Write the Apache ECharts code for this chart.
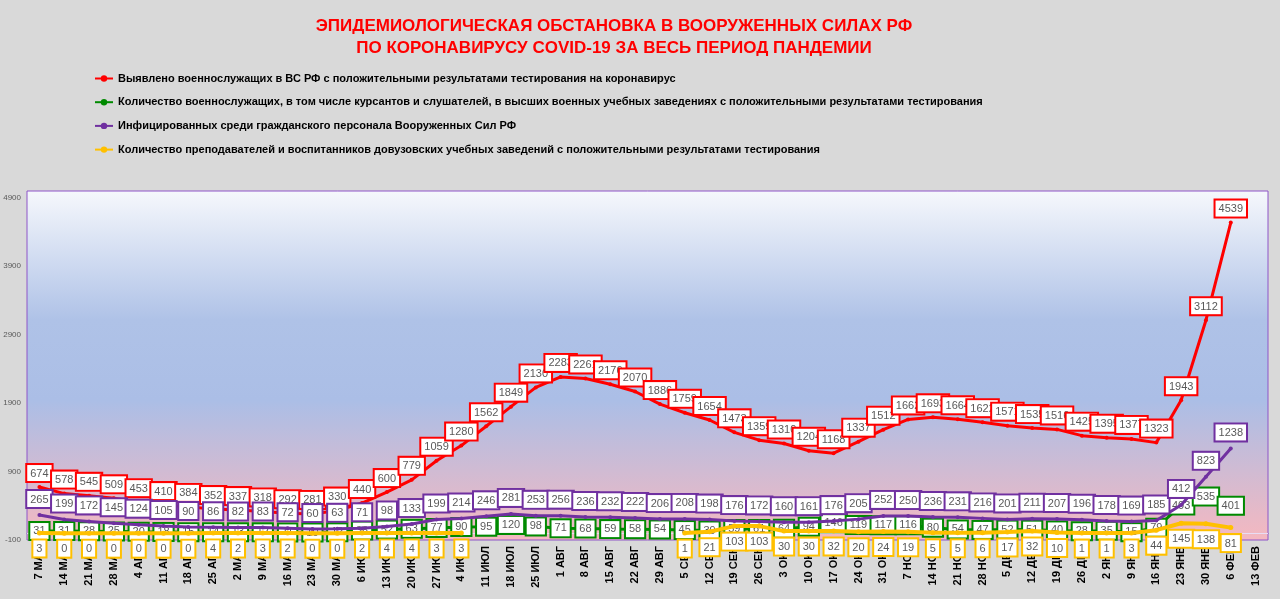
<!DOCTYPE html>
<html><head><meta charset="utf-8">
<script src="https://cdn.jsdelivr.net/npm/echarts@6/dist/echarts.min.js"></script>
<style>html,body{margin:0;padding:0;background:#D9D9D9;}#c{width:1280px;height:599px;}</style>
</head><body><div id="c"></div>
<script>
const categories = ['7 МАР','14 МАР','21 МАР','28 МАР','4 АПР','11 АПР','18 АПР','25 АПР','2 МАЙ','9 МАЙ','16 МАЙ','23 МАЙ','30 МАЙ','6 ИЮН','13 ИЮН','20 ИЮН','27 ИЮН','4 ИЮЛ','11 ИЮЛ','18 ИЮЛ','25 ИЮЛ','1 АВГ','8 АВГ','15 АВГ','22 АВГ','29 АВГ','5 СЕН','12 СЕН','19 СЕН','26 СЕН','3 ОКТ','10 ОКТ','17 ОКТ','24 ОКТ','31 ОКТ','7 НОЯ','14 НОЯ','21 НОЯ','28 НОЯ','5 ДЕК','12 ДЕК','19 ДЕК','26 ДЕК','2 ЯНВ','9 ЯНВ','16 ЯНВ','23 ЯНВ','30 ЯНВ','6 ФЕВ','13 ФЕВ'];
const detectedMil = [674,578,545,509,453,410,384,352,337,318,292,281,330,440,600,779,1059,1280,1562,1849,2130,2283,2261,2176,2070,1886,1759,1654,1473,1359,1310,1204,1168,1337,1512,1662,1693,1664,1622,1571,1535,1516,1425,1395,1377,1323,1943,3112,4539,null];
const vuzMil = [31,31,28,25,20,18,15,14,13,12,11,10,12,38,52,63,77,90,95,120,98,71,68,59,58,54,45,39,59,61,64,94,146,119,117,116,80,54,47,52,51,40,28,35,15,79,403,535,401,null];
const civilStaff = [265,199,172,145,124,105,90,86,82,83,72,60,63,71,98,133,199,214,246,281,253,256,236,232,222,206,208,198,176,172,160,161,176,205,252,250,236,231,216,201,211,207,196,178,169,185,412,823,1238,null];
const preUni = [3,0,0,0,0,0,0,4,2,3,2,0,0,2,4,4,3,3,null,null,null,null,null,null,null,null,1,21,103,103,30,30,32,20,24,19,5,5,6,17,32,10,1,1,3,44,145,138,81,null];
const yTicks = [-100,900,1900,2900,3900,4900];
const legendNames = [
 'Выявлено военнослужащих в ВС РФ с положительными результатами тестирования на коронавирус',
 'Количество военнослужащих, в том числе курсантов и слушателей, в высших военных учебных заведениях с положительными результатами тестирования',
 'Инфицированных среди гражданского персонала Вооруженных Сил РФ',
 'Количество преподавателей и воспитанников довузовских учебных заведений с положительными результатами тестирования'
];
const colors = ['#FF0000','#008A00','#7030A0','#FFC000'];
const labelFont = '"Liberation Sans",Arial,sans-serif';

const chart = echarts.init(document.getElementById('c'));
function mkLabel(color, pos, dist) {
  return {show:true, position:pos, distance:dist, color:'#595959', fontSize:11, fontFamily:labelFont,
    backgroundColor:'#FFFFFF', borderColor:color, borderWidth:2, padding:[3,3,2,3]};
}
const seriesData = [detectedMil, vuzMil, civilStaff, preUni];
const labelPos = [['top',4],['inside',0],['top',6],['bottom',5]];
const series = seriesData.map((d,i)=>({
  name: legendNames[i], type:'line', data:d, connectNulls:false,
  symbol:'circle', symbolSize: i===3?5:4,
  itemStyle:{color:colors[i]},
  lineStyle:{color:colors[i], width: i===3?4:3},
  label: mkLabel(colors[i], labelPos[i][0], labelPos[i][1]),
  z: 2+i,
  animation:false
}));
series[0].markLine = {silent:true, symbol:'none', label:{show:false}, lineStyle:{color:'#FFFFFF', width:1, type:'solid', opacity:0.8}, data:[{yAxis:0}], z:1};

chart.setOption({
  backgroundColor:'#D9D9D9',
  animation:false,
  title:{text:'ЭПИДЕМИОЛОГИЧЕСКАЯ ОБСТАНОВКА В ВООРУЖЕННЫХ СИЛАХ РФ\nПО КОРОНАВИРУСУ COVID-19 ЗА ВЕСЬ ПЕРИОД ПАНДЕМИИ',
    left:609, top:10, textAlign:'center',
    textStyle:{color:'#FF0000', fontSize:17, fontWeight:'bold', fontFamily:'"Liberation Sans",Arial,sans-serif', lineHeight:22}},
  legend:{orient:'vertical', left:89, top:68, itemGap:12.7, itemWidth:18, itemHeight:8,
    textStyle:{color:'#000', fontSize:11, fontWeight:'bold', fontFamily:labelFont},
    data:legendNames},
  grid:{left:27, right:12, top:191, bottom:59, show:true, borderColor:'#8E55C8', borderWidth:1,
    backgroundColor: new echarts.graphic.LinearGradient(0,0,0,1,[
      {offset:0,color:'#F6F8FC'},{offset:0.37,color:'#AFC2E7'},{offset:0.6,color:'#ABBEE6'},{offset:1,color:'#F5B8C0'}])},
  xAxis:{type:'category', data:categories, boundaryGap:true,
    axisLine:{show:true, lineStyle:{color:'#8E55C8', width:1}}, axisTick:{show:false},
    axisLabel:{interval:0, rotate:90, color:'#000', fontSize:11, fontWeight:'bold', margin:6,
      fontFamily:'"Liberation Sans",Arial,sans-serif'}},
  yAxis:{type:'value', min:-100, max:5000, splitLine:{show:false}, axisLine:{show:false}, axisTick:{show:false},
    axisLabel:{customValues:yTicks, formatter:(v)=>String(v), color:'#595959', fontSize:8, margin:6, fontFamily:'"Liberation Sans",Arial,sans-serif'}},
  series: series
});
</script></body></html>
